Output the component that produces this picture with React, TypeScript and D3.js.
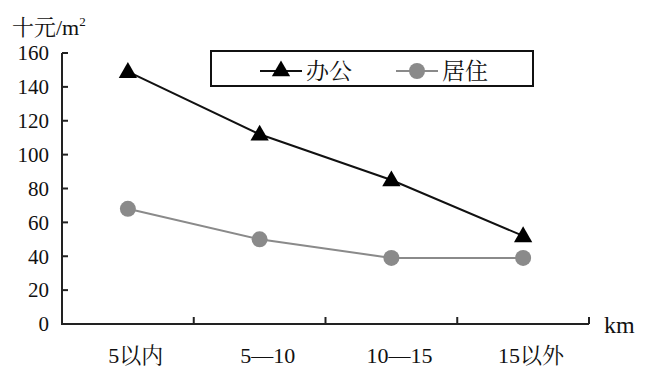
import React from "react";
import * as d3 from "d3";

const categories = ["5以内", "5—10", "10—15", "15以外"];
const office = [149, 112, 85, 52];
const residential = [68, 50, 39, 39];
const yTicks = [0, 20, 40, 60, 80, 100, 120, 140, 160];
const seriesNames = ["办公", "居住"];

const W = 656, H = 379;
const FONT = "'Liberation Serif', 'Noto Serif CJK SC', 'Noto Sans CJK SC', serif";

export default function App() {
  const x = d3.scaleBand<string>().domain(categories).range([62, 589]);
  const y = d3.scaleLinear().domain([0, 160]).range([324, 53]);
  const cx = (c: string) => (x(c) as number) + x.bandwidth() / 2;
  const line = d3.line<number>().x((_, i) => cx(categories[i])).y((d) => y(d));
  const tri = d3.symbol().type(d3.symbolTriangle).size(145)() as string;
  const gray = "#8a8a8a";
  return (
    <svg width={W} height={H} style={{ position: "absolute", left: 0, top: 0, background: "#fff" }}>
      <rect width={W} height={H} fill="#fff" />
      <text x={12} y={35} fontFamily={FONT} fontSize={22} fill="#111">
        十元/m<tspan fontSize={13} dy={-9}>2</tspan>
      </text>
      {/* y axis */}
      <line x1={62} x2={62} y1={y(160)} y2={y(0)} stroke="#222" strokeWidth={2} />
      {yTicks.map((t) => (
        <g key={t}>
          <line x1={62} x2={68} y1={y(t)} y2={y(t)} stroke="#222" strokeWidth={2} />
          <text x={49} y={y(t)} dy="0.35em" textAnchor="end" fontFamily={FONT} fontSize={21} fill="#111">
            {t}
          </text>
        </g>
      ))}
      {/* x axis */}
      <line x1={61} x2={589} y1={y(0)} y2={y(0)} stroke="#222" strokeWidth={2} />
      {categories.map((c) => (
        <g key={c}>
          <line x1={(x(c) as number) + x.bandwidth()} x2={(x(c) as number) + x.bandwidth()} y1={y(0)} y2={y(0) - 7} stroke="#222" strokeWidth={2} />
          <text x={cx(c) + 8} y={363} textAnchor="middle" fontFamily={FONT} fontSize={22} fill="#111">
            {c}
          </text>
        </g>
      ))}
      <text x={604} y={333} fontFamily={FONT} fontSize={24} fill="#111">km</text>
      {/* series */}
      <path d={line(residential) as string} fill="none" stroke={gray} strokeWidth={2} />
      {residential.map((v, i) => (
        <circle key={i} cx={cx(categories[i])} cy={y(v)} r={8} fill={gray} />
      ))}
      <path d={line(office) as string} fill="none" stroke="#111" strokeWidth={2} />
      {office.map((v, i) => (
        <path key={i} d={tri} transform={`translate(${cx(categories[i])},${y(v) + 1})`} fill="#000" />
      ))}
      {/* legend */}
      <rect x={211} y={51} width={322} height={35} fill="#fff" stroke="#111" strokeWidth={2} />
      <line x1={260} x2={302} y1={71} y2={71} stroke="#111" strokeWidth={2} />
      <path d={tri} transform="translate(281,71)" fill="#000" />
      <text x={306} y={71} dy="0.36em" fontFamily={FONT} fontSize={23} fill="#111">{seriesNames[0]}</text>
      <line x1={396} x2={438} y1={71} y2={71} stroke={gray} strokeWidth={2} />
      <circle cx={417} cy={71} r={8} fill={gray} />
      <text x={442} y={71} dy="0.36em" fontFamily={FONT} fontSize={23} fill="#111">{seriesNames[1]}</text>
    </svg>
  );
}
